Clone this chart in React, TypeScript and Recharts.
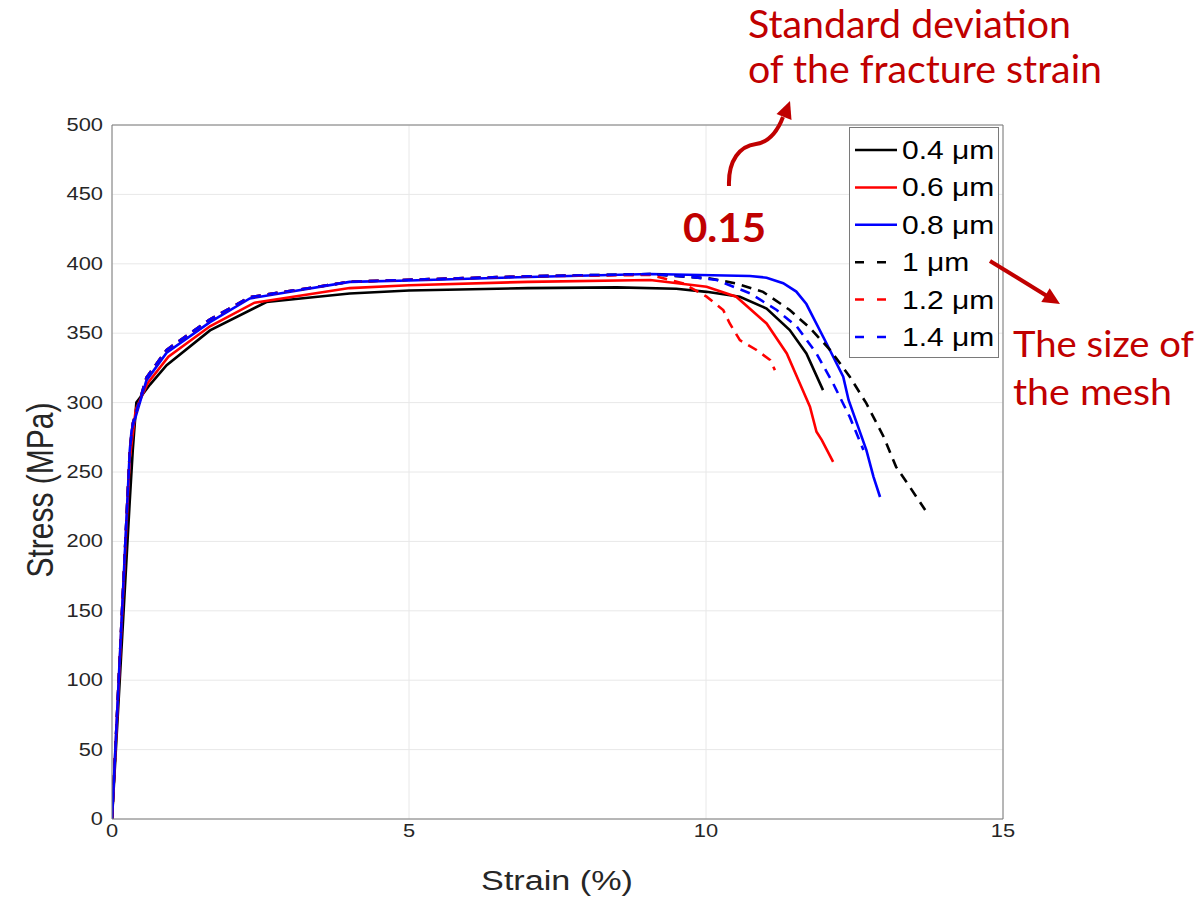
import { CartesianGrid, Line, LineChart, XAxis, YAxis } from "recharts";

// strain (%) / stress (MPa), one pair per mesh size
const STRAIN_04 = [0, 0.3, 0.35, 0.41, 0.64, 0.92, 1.65, 2.6, 4.0, 5, 7, 8.5, 9.5, 10.01, 10.57, 11.02, 11.41, 11.69, 11.97];
const STRESS_04 = [0, 230, 266, 300, 313, 327, 352, 372.5, 378.6, 380.8, 382.5, 383, 382, 379.8, 376.3, 367.8, 352.3, 335.4, 309];

const STRAIN_06 = [0, 0.3, 0.4, 0.6, 0.95, 1.65, 2.4, 4.0, 5, 7, 9.06, 10.01, 10.51, 11.02, 11.36, 11.58, 11.75, 11.86, 11.95, 12.14];
const STRESS_06 = [0, 260, 295, 314, 333, 355, 372, 382.5, 384.5, 387, 388.3, 383.5, 376.3, 357, 335.4, 313.8, 297, 279, 273, 257.3];

const STRAIN_08 = [0, 0.3, 0.33, 0.58, 0.92, 1.65, 2.32, 4.0, 5, 7, 9.06, 10.74, 11.02, 11.3, 11.52, 11.69, 11.8, 12.03, 12.31, 12.4, 12.54, 12.7, 12.82, 12.93];
const STRESS_08 = [0, 266, 280, 316, 336, 358, 375, 387, 388, 390.5, 392.6, 391.2, 390, 386, 380, 371, 361.8, 342.6, 318.7, 301.9, 285, 265.8, 246.5, 232];

const STRAIN_10 = [0, 0.3, 0.35, 0.58, 0.92, 1.65, 2.32, 4.0, 5, 7, 9.06, 10.07, 10.51, 10.96, 11.41, 11.75, 12.09, 12.42, 12.7, 12.99, 13.2, 13.43, 13.69];
const STRESS_10 = [0, 266, 285, 318, 338, 360, 376, 387, 388.5, 391, 392.6, 389.4, 385.8, 379.8, 366.7, 353.7, 337.9, 318.7, 299.4, 275.4, 253.7, 239.3, 222.6];

const STRAIN_12 = [0, 0.3, 0.35, 0.58, 0.92, 1.65, 2.32, 4.0, 5, 7, 9.06, 9.62, 10.01, 10.29, 10.4, 10.57, 10.85, 11.08, 11.16];
const STRESS_12 = [0, 266, 285, 318, 338, 360, 376, 387, 388.5, 391, 392, 385.8, 376.3, 366.7, 357, 345, 337.9, 330.7, 323.4];

const STRAIN_14 = [0, 0.3, 0.35, 0.58, 0.92, 1.65, 2.32, 4.0, 5, 7, 9.06, 9.73, 10.18, 10.74, 11.19, 11.53, 11.86, 12.14, 12.42, 12.65];
const STRESS_14 = [0, 266, 285, 318, 338, 360, 376, 387, 388.5, 391, 392.6, 390.7, 388.3, 378.7, 366.7, 354.7, 335.4, 313.8, 289.7, 265.8];

const X_TICKS = [0, 5, 10, 15];
const Y_TICKS = [0, 50, 100, 150, 200, 250, 300, 350, 400, 450, 500];

const zip = (xs: number[], ys: number[]) => xs.map((x, i) => ({ x, y: ys[i] }));

const SERIES = [
  { name: "0.4 μm", data: zip(STRAIN_04, STRESS_04), color: "#000000", dashed: false },
  { name: "0.6 μm", data: zip(STRAIN_06, STRESS_06), color: "#ff0000", dashed: false },
  { name: "0.8 μm", data: zip(STRAIN_08, STRESS_08), color: "#0000ff", dashed: false },
  { name: "1 μm", data: zip(STRAIN_10, STRESS_10), color: "#000000", dashed: true },
  { name: "1.2 μm", data: zip(STRAIN_12, STRESS_12), color: "#ff0000", dashed: true },
  { name: "1.4 μm", data: zip(STRAIN_14, STRESS_14), color: "#0000ff", dashed: true },
];

const AX = "#7a7a7a";
const TXT = "#262626";
const RED = "#c00000";
const SANS = "'Liberation Sans', Arial, sans-serif";
const CAL = "Lato, 'Open Sans', sans-serif";
const SX = 1.25; // the picture is stretched sideways

function XTick({ x, y, payload }: any) {
  return (
    <text transform={`translate(${x},${y + 12}) scale(${SX},1)`} textAnchor="middle" fontFamily={SANS} fontSize={17.5} fill={TXT}>
      {payload.value}
    </text>
  );
}

function YTick({ x, y, payload }: any) {
  return (
    <text transform={`translate(${x},${y + 6}) scale(${SX},1)`} textAnchor="end" fontFamily={SANS} fontSize={17.5} fill={TXT}>
      {payload.value}
    </text>
  );
}

function Overlay() {
  return (
    <svg width={1204} height={904} style={{ position: "absolute", left: 0, top: 0, pointerEvents: "none" }}>
      {/* axis titles */}
      <text transform={`translate(557,890) scale(1.22,1)`} textAnchor="middle" fontFamily={SANS} fontSize={28} fill={TXT}>
        Strain (%)
      </text>
      <text transform={`translate(53,490) scale(${SX},1) rotate(-90)`} textAnchor="middle" fontFamily={SANS} fontSize={30} fill={TXT}>
        Stress (MPa)
      </text>

      {/* legend */}
      <rect x={849.5} y={127.5} width={149} height={230} fill="#fff" stroke={AX} strokeWidth={1} />
      {SERIES.map((s, i) => {
        const cy = 150 + i * 37.4;
        return (
          <g key={s.name}>
            <line x1={855} x2={897} y1={cy} y2={cy} stroke={s.color} strokeWidth={2.5} strokeDasharray={s.dashed ? "9 13" : undefined} />
            <text transform={`translate(902,${cy + 9}) scale(1.2,1)`} fontFamily={SANS} fontSize={25} fill="#000">
              {s.name}
            </text>
          </g>
        );
      })}

      {/* annotations */}
      <text x={748} y={38} fontFamily={CAL} fontSize={38} fill={RED} textLength={323} lengthAdjust="spacingAndGlyphs">
        Standard deviation
      </text>
      <text x={748} y={83} fontFamily={CAL} fontSize={38} fill={RED} textLength={354} lengthAdjust="spacingAndGlyphs">
        of the fracture strain
      </text>
      <text x={683} y={242} fontFamily={CAL} fontWeight={700} fontSize={40} fill={RED} textLength={83} lengthAdjust="spacingAndGlyphs">
        0.15
      </text>
      <text x={1013} y={357} fontFamily={CAL} fontSize={36} fill={RED} textLength={181} lengthAdjust="spacingAndGlyphs">
        The size of
      </text>
      <text x={1013} y={405} fontFamily={CAL} fontSize={36} fill={RED} textLength={159} lengthAdjust="spacingAndGlyphs">
        the mesh
      </text>

      <path d="M 729 186 C 728 160, 740 146, 756 144 C 770 142, 778 130, 783 117" fill="none" stroke={RED} strokeWidth={4} />
      <polygon points="790,101 776.5,114 791.5,120" fill={RED} />
      <line x1={990} y1={261} x2={1047} y2={296} stroke={RED} strokeWidth={4} />
      <polygon points="1060,304 1041.3,301.9 1049.7,288.3" fill={RED} />
    </svg>
  );
}

export default function App() {
  return (
    <div style={{ position: "absolute", left: 0, top: 0, width: 1204, height: 904, background: "#fff" }}>
      <LineChart width={1204} height={904} margin={{ top: 125, right: 201, bottom: 25, left: 52 }}>
        <CartesianGrid stroke="#e8e8e8" strokeWidth={1} />
        <XAxis
          type="number"
          dataKey="x"
          domain={[0, 15]}
          ticks={X_TICKS}
          allowDataOverflow
          height={60}
          axisLine={false}
          tickLine={false}
          tickSize={0}
          tickMargin={6}
          tick={<XTick />}
        />
        <YAxis
          type="number"
          domain={[0, 500]}
          ticks={Y_TICKS}
          allowDataOverflow
          width={60}
          axisLine={false}
          tickLine={false}
          tickSize={0}
          tickMargin={9}
          tick={<YTick />}
        />
        {/* box with inward ticks */}
        <XAxis xAxisId="bm" type="number" domain={[0, 15]} ticks={X_TICKS} allowDataOverflow orientation="bottom" mirror tick={false} tickSize={9} axisLine={{ stroke: AX }} tickLine={{ stroke: AX }} />
        <XAxis xAxisId="tm" type="number" domain={[0, 15]} ticks={X_TICKS} allowDataOverflow orientation="top" mirror tick={false} tickSize={9} axisLine={{ stroke: AX }} tickLine={{ stroke: AX }} />
        <YAxis yAxisId="lm" type="number" domain={[0, 500]} ticks={Y_TICKS} allowDataOverflow orientation="left" mirror tick={false} tickSize={9} axisLine={{ stroke: AX }} tickLine={{ stroke: AX }} />
        <YAxis yAxisId="rm" type="number" domain={[0, 500]} ticks={Y_TICKS} allowDataOverflow orientation="right" mirror tick={false} tickSize={9} axisLine={{ stroke: AX }} tickLine={{ stroke: AX }} />
        {SERIES.map((s) => (
          <Line
            key={s.name}
            name={s.name}
            data={s.data}
            dataKey="y"
            type="linear"
            stroke={s.color}
            strokeWidth={2.6}
            strokeDasharray={s.dashed ? "10 7" : undefined}
            dot={false}
            activeDot={false}
            isAnimationActive={false}
          />
        ))}
      </LineChart>
      <Overlay />
    </div>
  );
}
